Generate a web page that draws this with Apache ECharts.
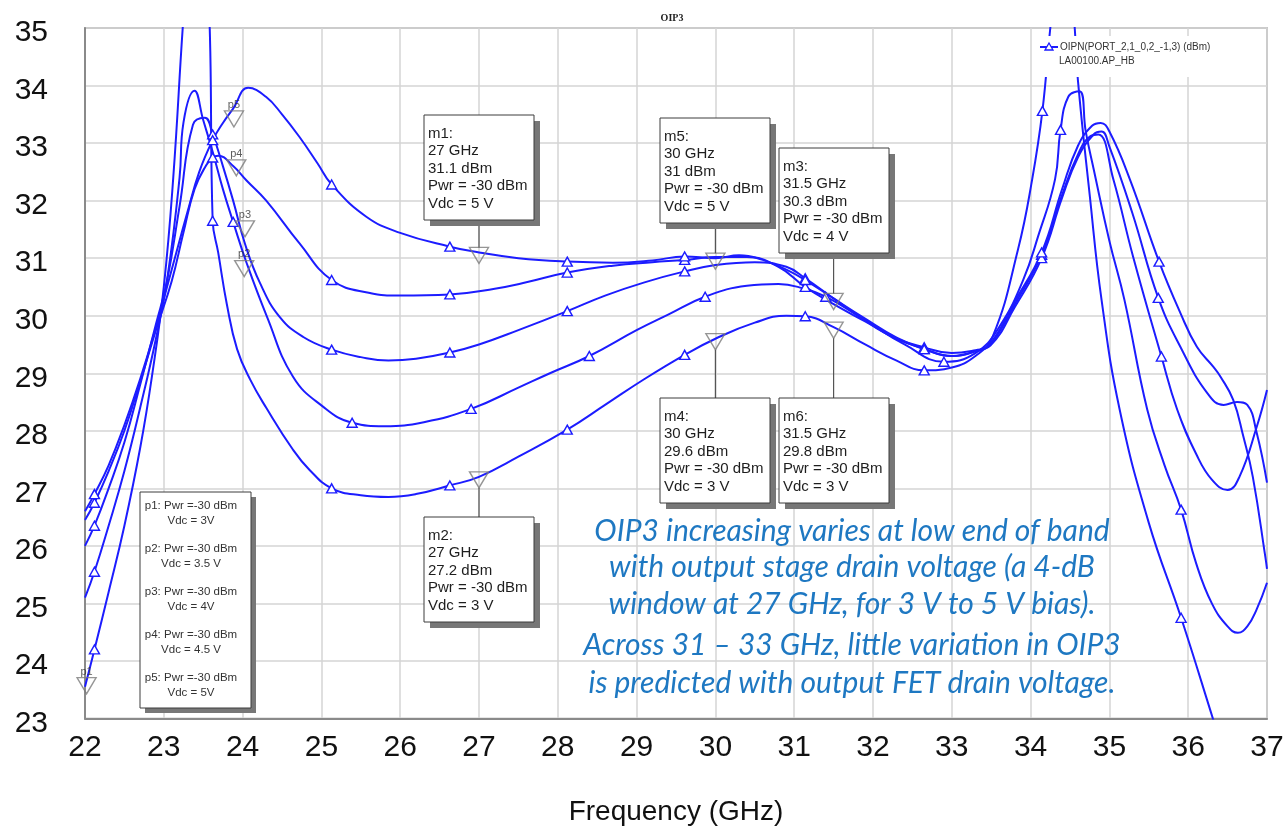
<!DOCTYPE html>
<html>
<head>
<meta charset="utf-8">
<title>OIP3</title>
<script src="https://cdn.jsdelivr.net/npm/echarts@6.0.0/dist/echarts.min.js"></script>
<style>
  html, body { margin: 0; padding: 0; background: #ffffff; }
  #chart { width: 1288px; height: 833px; }
</style>
</head>
<body>
<div id="chart"></div>
<script>
// OIP3 (dBm) versus frequency (GHz) for five output-stage drain voltages, Pwr = -30 dBm.
const oip3_3V = [
  [22.0,23.55],[22.12,24.2],[22.3,25.2],[22.5,26.35],[22.7,27.7],[22.85,28.95],[23.0,30.5],[23.12,32.4],
  [23.25,35.2],[23.38,37.5],[23.5,37.2],[23.56,35.8],[23.59,34.6],[23.62,31.65],[23.69,31.1],[23.8,30.2],
  [23.93,29.42],[24.1,28.88],[24.3,28.4],[24.64,27.67],[24.85,27.32],[25.13,27.0],[25.5,26.88],[25.85,26.85],
  [26.2,26.9],[26.63,27.05],[27.0,27.2],[27.5,27.55],[28.12,28.02],[28.6,28.45],[29.1,28.9],[29.61,29.32],
  [30.0,29.6],[30.5,29.88],[30.9,30.0],[31.14,29.99],[31.5,29.8],[31.9,29.5],[32.3,29.22],[32.65,29.05],
  [33.0,29.1],[33.3,29.3],[33.52,29.64],[33.84,31.15],[34.02,32.37],[34.15,33.56],[34.25,35.0],[34.38,36.6],
  [34.5,36.0],[34.56,35.0],[34.6,34.1],[34.75,32.1],[34.9,30.28],[35.13,28.37],[35.5,26.4],[35.91,24.75],
  [36.32,22.97],[36.45,22.4]
];
const oip3_3p5V = [
  [22.0,25.1],[22.12,25.55],[22.3,26.35],[22.5,27.3],[22.7,28.4],[22.9,29.6],[23.05,30.7],[23.2,32.4],
  [23.25,33.36],[23.39,33.91],[23.5,33.4],[23.62,32.85],[23.75,32.2],[23.88,31.63],[24.05,30.92],[24.31,29.98],
  [24.64,28.94],[25.02,28.42],[25.39,28.14],[25.8,28.08],[26.3,28.15],[26.9,28.38],[27.5,28.75],[27.9,29.0],
  [28.4,29.3],[29.0,29.75],[29.4,30.02],[29.87,30.33],[30.4,30.52],[30.8,30.55],[31.1,30.48],[31.4,30.33],
  [31.9,29.92],[32.4,29.5],[32.9,29.2],[33.3,29.35],[33.6,29.8],[33.9,30.6],[34.1,31.4],[34.31,32.37],
  [34.38,33.23],[34.48,33.81],[34.62,33.9],[34.7,33.2],[34.8,32.55],[35.0,31.3],[35.19,30.28],[35.48,28.37],
  [35.7,27.4],[35.91,26.63],[36.1,25.7],[36.3,25.0],[36.5,24.6],[36.63,24.49],[36.75,24.6],[36.87,24.9],
  [37.0,25.36]
];
const oip3_4V = [
  [22.0,26.0],[22.12,26.35],[22.3,27.0],[22.5,27.8],[22.7,28.8],[22.9,29.85],[23.04,30.6],[23.2,31.9],
  [23.37,33.32],[23.52,33.44],[23.62,33.15],[23.75,32.6],[23.88,32.0],[24.03,31.25],[24.22,30.57],[24.47,29.98],
  [24.77,29.63],[25.13,29.41],[25.5,29.28],[25.85,29.22],[26.2,29.25],[26.63,29.36],[27.0,29.5],[27.5,29.75],
  [28.12,30.08],[28.6,30.35],[29.1,30.58],[29.61,30.77],[30.0,30.88],[30.5,30.93],[30.9,30.85],[31.14,30.65],
  [31.5,30.3],[31.9,29.92],[32.3,29.6],[32.65,29.42],[33.0,29.3],[33.3,29.38],[33.49,29.5],[33.8,30.2],
  [34.14,31.06],[34.4,32.1],[34.6,32.8],[34.76,33.12],[34.86,33.15],[35.05,32.37],[35.3,31.03],[35.66,29.29],
  [35.86,28.37],[36.1,27.6],[36.3,27.15],[36.5,26.97],[36.65,27.2],[36.87,28.07],[37.0,28.71]
];
const oip3_4p5V = [
  [22.0,26.45],[22.12,26.75],[22.3,27.3],[22.5,28.0],[22.7,28.85],[22.9,29.75],[23.1,30.6],[23.25,31.45],
  [23.39,32.2],[23.54,32.62],[23.62,32.75],[23.69,32.78],[23.88,32.6],[24.05,32.35],[24.3,32.0],[24.72,31.26],
  [25.13,30.62],[25.6,30.4],[26.0,30.35],[26.63,30.37],[27.2,30.47],[27.6,30.58],[28.12,30.75],[28.7,30.87],
  [29.2,30.93],[29.61,30.97],[30.0,31.02],[30.4,31.02],[30.8,30.85],[31.14,30.5],[31.5,30.2],[31.9,29.9],
  [32.3,29.6],[32.65,29.45],[33.0,29.35],[33.3,29.4],[33.49,29.48],[33.8,30.15],[34.14,31.0],[34.4,32.05],
  [34.6,32.75],[34.8,33.15],[34.9,33.2],[35.0,32.94],[35.29,31.79],[35.62,30.31],[35.9,29.46],[36.24,28.66],
  [36.45,28.45],[36.62,28.5],[36.75,28.45],[36.87,27.96],[37.0,27.1]
];
const oip3_5V = [
  [22.0,26.6],[22.12,26.9],[22.3,27.4],[22.5,28.1],[22.7,28.9],[22.9,29.8],[23.1,30.8],[23.3,31.8],
  [23.45,32.5],[23.62,33.05],[23.75,33.35],[23.88,33.6],[24.07,33.96],[24.3,33.8],[24.5,33.5],[24.72,33.11],
  [24.95,32.65],[25.13,32.28],[25.57,31.72],[26.0,31.44],[26.63,31.2],[27.0,31.1],[27.5,31.0],[28.12,30.94],
  [28.7,30.92],[29.2,30.96],[29.61,31.03],[30.0,31.0],[30.3,31.05],[30.6,30.97],[30.9,30.8],[31.14,30.62],
  [31.5,30.3],[31.9,29.95],[32.3,29.62],[32.65,29.42],[33.0,29.3],[33.3,29.38],[33.49,29.52],[33.8,30.25],
  [34.14,31.1],[34.4,32.2],[34.6,32.95],[34.78,33.3],[34.89,33.35],[35.0,33.2],[35.26,32.37],[35.63,30.94],
  [35.9,30.05],[36.11,29.46],[36.32,29.11],[36.41,28.94],[36.57,28.54],[36.7,27.9],[36.82,27.2],[36.98,25.8],
  [37.0,25.6]
];

// Frequencies at which each trace carries a triangle symbol
const symbolFreq_3V   = [22.12, 23.62, 25.13, 26.63, 28.12, 29.61, 31.14, 32.65, 34.15, 35.91];
const symbolFreq_3p5V = [22.12, 23.88, 25.39, 26.9, 28.4, 29.87, 31.4, 32.9, 34.38, 35.91];
const symbolFreq_4V   = [22.12, 23.62, 25.13, 26.63, 28.12, 29.61, 31.14, 32.65, 34.14, 35.66];
const symbolFreq_4p5V = [22.12, 23.62, 25.13, 26.63, 28.12, 29.61, 31.14, 32.65, 34.14, 35.62];
const symbolFreq_5V   = [22.12, 23.62, 25.13, 26.63, 28.12, 29.61, 31.14, 32.65, 34.14, 35.63];

// Readout markers m1..m6
const markerNames = ['m1', 'm2', 'm3', 'm4', 'm5', 'm6'];
const markerFreq  = [27, 27, 31.5, 30, 30, 31.5];
const markerOIP3  = [31.1, 27.2, 30.3, 29.6, 31, 29.8];
const markerVdc   = [5, 3, 4, 3, 5, 3];
const markerPwr   = -30;
// vertical placement of each readout box (top edge, px) and whether it hangs above the marker
const markerBoxTop   = [115, 517, 148, 398, 118, 398];
const markerBoxAbove = [true, false, true, false, true, false];

// Trace identification markers p1..p5
const traceTagNames = ['p1', 'p2', 'p3', 'p4', 'p5'];
const traceTagFreq  = [22.02, 24.02, 24.03, 23.92, 23.89];
const traceTagOIP3  = [23.57, 30.82, 31.51, 32.57, 33.42];
const traceVdc      = ['3V', '3.5 V', '4V', '4.5 V', '5V'];

const axisFont = 'Liberation Sans, Arial, sans-serif';
const traceBlue = '#1c1cff';

const chart = echarts.init(document.getElementById('chart'), null, { renderer: 'canvas' });

const traces = [
  { name: 'Vdc = 3 V',   data: oip3_3V,   sym: symbolFreq_3V },
  { name: 'Vdc = 3.5 V', data: oip3_3p5V, sym: symbolFreq_3p5V },
  { name: 'Vdc = 4 V',   data: oip3_4V,   sym: symbolFreq_4V },
  { name: 'Vdc = 4.5 V', data: oip3_4p5V, sym: symbolFreq_4p5V },
  { name: 'Vdc = 5 V',   data: oip3_5V,   sym: symbolFreq_5V }
];

const lineSeries = traces.map(t => ({
  type: 'line',
  name: t.name,
  symbol: 'triangle',
  symbolSize: [10, 9],
  showSymbol: true,
  showAllSymbol: true,
  smooth: 0.45,
  clip: true,
  z: 3,
  lineStyle: { color: traceBlue, width: 2 },
  itemStyle: { color: '#ffffff', borderColor: traceBlue, borderWidth: 1.4 },
  emphasis: { disabled: true },
  data: t.data.map(([f, v]) => t.sym.includes(f) ? { value: [f, v] } : { value: [f, v], symbol: 'none' })
}));

const tagSeries = {
  type: 'scatter',
  name: 'markers',
  z: 6,
  symbol: 'triangle',
  symbolRotate: 180,
  symbolSize: [19, 16],
  itemStyle: { color: 'rgba(255,255,255,0)', borderColor: '#7a7a7a', borderWidth: 1.4 },
  emphasis: { disabled: true },
  data: [
    ...markerFreq.map((f, i) => ({ value: [f, markerOIP3[i]], symbolOffset: [0, 3] })),
    ...traceTagFreq.map((f, i) => ({
      value: [f, traceTagOIP3[i]],
      label: {
        show: true, formatter: traceTagNames[i], position: 'top', distance: 0,
        fontSize: 11, color: '#333', fontFamily: axisFont
      }
    }))
  ]
};

chart.setOption({
  animation: false,
  backgroundColor: '#ffffff',
  grid: { left: 85, right: 21, top: 28, bottom: 114.5, show: true, borderColor: '#9a9a9a', borderWidth: 1.5 },
  xAxis: {
    type: 'value', min: 22, max: 37, interval: 1,
    axisLine: { show: true, onZero: false, lineStyle: { color: '#8a8a8a', width: 2 } },
    axisTick: { show: false },
    axisLabel: { fontSize: 30, color: '#111', fontFamily: axisFont, margin: 14, showMinLabel: true, showMaxLabel: true },
    splitLine: { show: true, lineStyle: { color: '#d4d4d4', width: 1.5 } },
    name: 'Frequency (GHz)', nameLocation: 'middle', nameGap: 80,
    nameTextStyle: { fontSize: 28, color: '#111', fontFamily: axisFont }
  },
  yAxis: {
    type: 'value', min: 23, max: 35, interval: 1,
    axisLine: { show: true, onZero: false, lineStyle: { color: '#8a8a8a', width: 2 } },
    axisTick: { show: false },
    axisLabel: {
      margin: 37,
      formatter: v => '{t|' + v + '}',
      rich: { t: { fontSize: 30, color: '#111', fontFamily: axisFont, padding: [10, 0, 0, 0] } }
    },
    splitLine: { show: true, lineStyle: { color: '#d4d4d4', width: 1.5 } }
  },
  series: [...lineSeries, tagSeries]
});

// Annotation overlays: readout boxes, trace key, legend and comment text
const toPx = (f, v) => chart.convertToPixel({ xAxisIndex: 0, yAxisIndex: 0 }, [f, v]);
const graphics = [];

function shadowBox(x, y, w, h, shadow) {
  graphics.push({ type: 'rect', z: 20, shape: { x: x + shadow, y: y + shadow, width: w, height: h }, style: { fill: '#777777' } });
  graphics.push({ type: 'rect', z: 21, shape: { x: x, y: y, width: w, height: h }, style: { fill: '#ffffff', stroke: '#3c3c3c', lineWidth: 1 } });
}

const boxW = 110, boxH = 105;
markerNames.forEach((name, i) => {
  const [mx, my] = toPx(markerFreq[i], markerOIP3[i]);
  const cy = my + 3;
  const left = Math.round(mx - boxW / 2);
  const top = markerBoxTop[i];
  // leader line from triangle to box
  const y1 = markerBoxAbove[i] ? top + boxH : cy + 8;
  const y2 = markerBoxAbove[i] ? cy - 8 : top;
  graphics.push({ type: 'line', z: 19, shape: { x1: mx, y1: y1, x2: mx, y2: y2 }, style: { stroke: '#555', lineWidth: 1.2 } });
  shadowBox(left, top, boxW, boxH, 6);
  graphics.push({
    type: 'text', z: 22, x: left + 4, y: top + 10,
    style: {
      text: [name + ':', markerFreq[i] + ' GHz', markerOIP3[i] + ' dBm', 'Pwr = ' + markerPwr + ' dBm', 'Vdc = ' + markerVdc[i] + ' V'].join('\n'),
      fontSize: 15, fontFamily: axisFont, fill: '#1e1e1e', lineHeight: 17.5
    }
  });
});

// trace key box
shadowBox(140, 492, 111, 216, 5);
traceTagNames.forEach((name, i) => {
  graphics.push({
    type: 'text', z: 22, x: 191, y: 499 + i * 43,
    style: {
      text: name + ': Pwr =' + markerPwr + ' dBm\nVdc = ' + traceVdc[i],
      fontSize: 11.5, fontFamily: axisFont, fill: '#333', lineHeight: 14.5, align: 'center'
    }
  });
});

// legend
graphics.push({ type: 'rect', z: 15, shape: { x: 1034, y: 36, width: 198, height: 41 }, style: { fill: '#ffffff' } });
graphics.push({ type: 'line', z: 16, shape: { x1: 1040, y1: 47, x2: 1058, y2: 47 }, style: { stroke: traceBlue, lineWidth: 2 } });
graphics.push({ type: 'polygon', z: 16, shape: { points: [[1049, 43], [1045, 50], [1053, 50]] }, style: { fill: '#ffffff', stroke: traceBlue, lineWidth: 1.3 } });
graphics.push({ type: 'text', z: 16, x: 1060, y: 47, style: { text: 'OIPN(PORT_2,1_0,2_-1,3) (dBm)', fontSize: 10, fontFamily: axisFont, fill: '#333', verticalAlign: 'middle' } });
graphics.push({ type: 'text', z: 16, x: 1059, y: 61, style: { text: 'LA00100.AP_HB', fontSize: 10, fontFamily: axisFont, fill: '#333', verticalAlign: 'middle' } });

// chart title
graphics.push({ type: 'text', z: 16, x: 672, y: 18, style: { text: 'OIP3', fontSize: 10, fontWeight: 'bold', fontFamily: 'Liberation Serif, serif', fill: '#222', align: 'center', verticalAlign: 'middle' } });

// comment text
const commentLines = [
  'OIP3 increasing varies at low end of band',
  'with output stage drain voltage (a 4-dB',
  'window at 27 GHz, for 3 V to 5 V bias).',
  'Across 31 \u2013 33 GHz, little variation in OIP3',
  'is predicted with output FET drain voltage.'
];
const commentY = [531, 567, 604, 645, 683];
commentLines.forEach((t, i) => {
  graphics.push({
    type: 'text', z: 16, x: 852, y: commentY[i],
    style: { text: t, fontSize: 30, fontStyle: 'italic', fontFamily: 'Lato, "Noto Sans", sans-serif', fill: '#1e78c2', align: 'center', verticalAlign: 'middle' }
  });
});

chart.setOption({ graphic: graphics });
</script>
</body>
</html>
